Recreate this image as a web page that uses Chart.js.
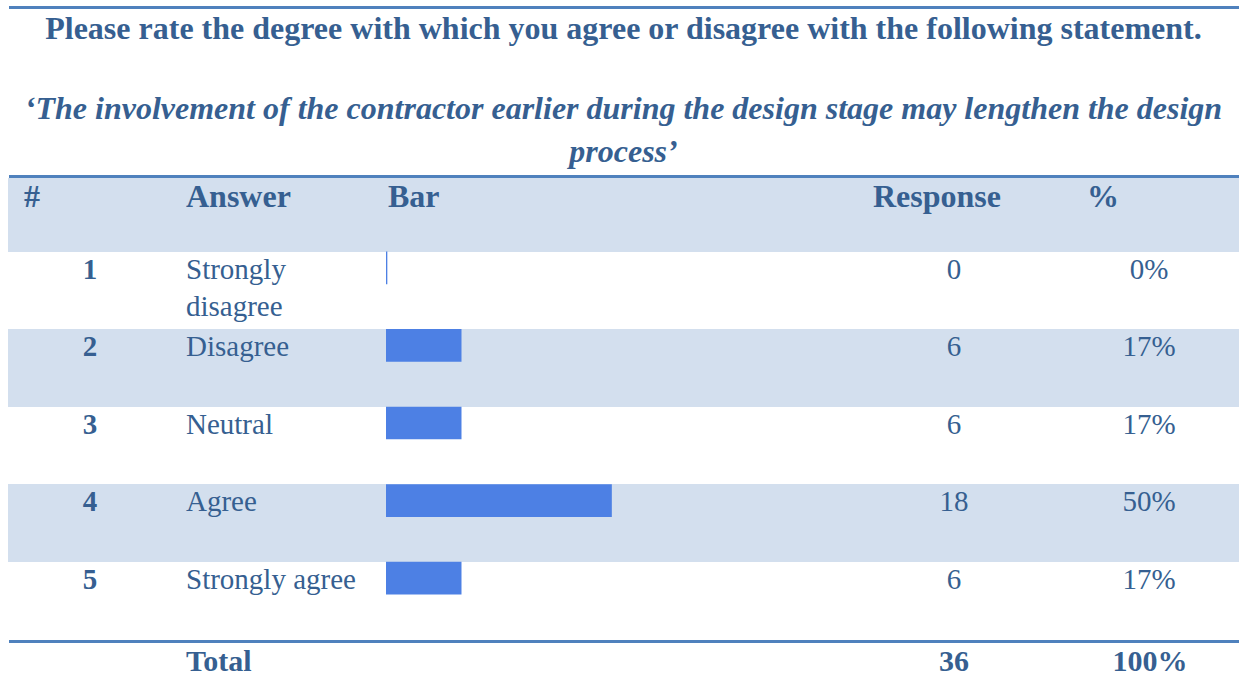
<!DOCTYPE html>
<html>
<head>
<meta charset="utf-8">
<script src="https://cdn.jsdelivr.net/npm/chart.js@4"></script>
<style>
  body { margin: 0; background: #fff; width: 1239px; height: 679px; position: relative; overflow: hidden;
         font-family: "Liberation Serif", "Times New Roman", serif; color: #365f91; }
  .abs { position: absolute; white-space: nowrap; }
  .rule { position: absolute; left: 9px; width: 1230px; height: 3px; background: #4f81bd; }
  .band { position: absolute; left: 8px; width: 1231px; background: #d3dfee; }
  .title { left: 8px; width: 1231px; text-align: center; font-weight: bold; font-size: 32px; line-height: 36px; }
  .quote { left: 8px; width: 1231px; text-align: center; font-weight: bold; font-style: italic; font-size: 32px; line-height: 43px; white-space: normal; }
  .cell { font-size: 29px; line-height: 37px; }
  .head { font-size: 32px; line-height: 37px; font-weight: bold; }
  .tot { font-size: 30px; line-height: 37px; font-weight: bold; }
  .b { font-weight: bold; }
  #bars { position: absolute; left: 386px; top: 229px; }
</style>
</head>
<body>
<div class="rule" style="top:6px"></div>
<div class="abs title" style="top:10px">Please rate the degree with which you agree or disagree with the following statement.</div>
<div class="abs quote" style="top:87px">‘The involvement of the contractor earlier during the design stage may lengthen the design process’</div>
<div class="rule" style="top:175px"></div>
<div class="band" style="top:178px;height:74px"></div>
<div id="table"></div>
<canvas id="bars" width="451" height="388"></canvas>
<div class="rule" style="top:640px"></div>

<script>
const rowNumbers = ['1', '2', '3', '4', '5'];
const answers = ['Strongly disagree', 'Disagree', 'Neutral', 'Agree', 'Strongly agree'];
const responses = [0, 6, 6, 18, 6];
const percents = ['0%', '17%', '17%', '50%', '17%'];
const headers = ['#', 'Answer', 'Bar', 'Response', '%'];
const totalResponses = 36;
const totalPercent = '100%';

const rowTops = [252, 329, 407, 484, 562];
const rowHeight = 78;
const table = document.getElementById('table');
let html = '';

// en-tête
const headerX = [24, 186, 388, 873, 1087];
headers.forEach((h, i) => {
    html += `<div class="abs head" style="top:178px;left:${headerX[i]}px">${h}</div>`;
});

// lignes
answers.forEach((a, i) => {
    const top = rowTops[i];
    if (i % 2 === 1) html += `<div class="band" style="top:${top}px;height:${rowHeight}px"></div>`;
    const t = top - 1;
    html += `<div class="abs cell b" style="top:${t}px;left:40px;width:100px;text-align:center">${rowNumbers[i]}</div>`;
    html += `<div class="abs cell" style="top:${t}px;left:186px;width:190px;white-space:normal">${a}</div>`;
    html += `<div class="abs cell" style="top:${t}px;left:904px;width:100px;text-align:center">${responses[i]}</div>`;
    html += `<div class="abs cell" style="top:${t}px;left:1099px;width:100px;text-align:center">${percents[i]}</div>`;
});

// total
html += `<div class="abs tot" style="top:642px;left:186px">Total</div>`;
html += `<div class="abs tot" style="top:642px;left:904px;width:100px;text-align:center">${totalResponses}</div>`;
html += `<div class="abs tot" style="top:642px;left:1100px;width:100px;text-align:center">${totalPercent}</div>`;
table.innerHTML = html;

// barres avec Chart.js
const ctx = document.getElementById('bars').getContext('2d');
new Chart(ctx, {
    type: 'bar',
    data: {
        labels: answers,
        datasets: [{
            data: responses,
            backgroundColor: '#4d80e4',
            barThickness: 32,
            minBarLength: 1
        }]
    },
    options: {
        indexAxis: 'y',
        responsive: false,
        animation: false,
        devicePixelRatio: 1,
        layout: { padding: 0 },
        plugins: { legend: { display: false }, tooltip: { enabled: false } },
        scales: {
            x: { display: false, min: 0, max: totalResponses },
            y: { display: false }
        }
    }
});
</script>
</body>
</html>
